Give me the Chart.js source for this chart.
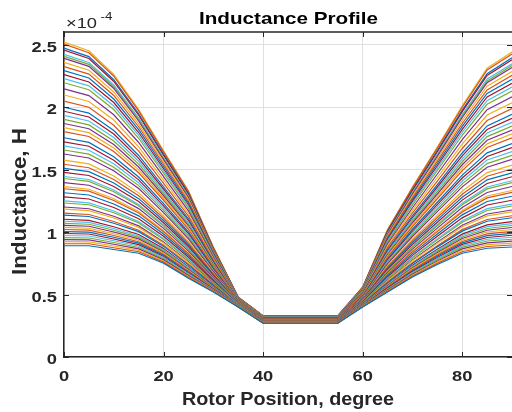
<!DOCTYPE html>
<html>
<head>
<meta charset="utf-8">
<script src="https://cdn.jsdelivr.net/npm/chart.js@4.4.1/dist/chart.umd.min.js"></script>
<style>
  body { margin: 0; background: #fff; }
  canvas { display: block; }
</style>
</head>
<body>
<canvas id="inductanceChart" width="512" height="412"></canvas>
<script>
// rotor angle (degree); 40..55 is the flat unaligned stretch
const rotorPos = [0, 5, 10, 15, 20, 25, 30, 35, 40, 55, 60, 65, 70, 75, 80, 85, 90];
const xTicks = [0, 20, 40, 60, 80];
const yTicks = [0, 0.5, 1, 1.5, 2, 2.5];

// inductance in units of 1e-4 H, one row per current level (highest current first)
const inductance = [
  [0.89, 0.89, 0.86, 0.83, 0.75, 0.63, 0.52, 0.40, 0.27, 0.27, 0.40, 0.52, 0.64, 0.74, 0.83, 0.87, 0.88],
  [0.906, 0.906, 0.874, 0.842, 0.759, 0.637, 0.524, 0.401, 0.271, 0.271, 0.402, 0.525, 0.647, 0.749, 0.842, 0.884, 0.896],
  [0.923, 0.921, 0.888, 0.853, 0.768, 0.644, 0.527, 0.402, 0.271, 0.271, 0.403, 0.53, 0.654, 0.759, 0.854, 0.899, 0.911],
  [0.939, 0.937, 0.902, 0.865, 0.777, 0.651, 0.531, 0.402, 0.272, 0.272, 0.405, 0.535, 0.662, 0.768, 0.865, 0.913, 0.927],
  [0.955, 0.952, 0.916, 0.876, 0.786, 0.658, 0.534, 0.403, 0.272, 0.272, 0.406, 0.54, 0.669, 0.778, 0.877, 0.928, 0.942],
  [0.972, 0.968, 0.93, 0.888, 0.795, 0.665, 0.538, 0.404, 0.273, 0.273, 0.408, 0.545, 0.676, 0.787, 0.889, 0.942, 0.958],
  [0.988, 0.984, 0.944, 0.899, 0.804, 0.672, 0.542, 0.405, 0.274, 0.274, 0.41, 0.55, 0.683, 0.796, 0.901, 0.956, 0.974],
  [1.004, 0.999, 0.958, 0.911, 0.813, 0.679, 0.545, 0.406, 0.274, 0.274, 0.411, 0.555, 0.69, 0.806, 0.913, 0.971, 0.989],
  [1.02, 1.015, 0.972, 0.922, 0.822, 0.686, 0.549, 0.406, 0.275, 0.275, 0.413, 0.56, 0.698, 0.815, 0.924, 0.985, 1.005],
  [1.037, 1.03, 0.986, 0.934, 0.831, 0.693, 0.552, 0.407, 0.275, 0.275, 0.414, 0.565, 0.705, 0.825, 0.936, 1.0, 1.02],
  [1.053, 1.046, 1.0, 0.945, 0.84, 0.7, 0.556, 0.408, 0.276, 0.276, 0.416, 0.57, 0.712, 0.834, 0.948, 1.014, 1.036],
  [1.069, 1.062, 1.014, 0.957, 0.849, 0.707, 0.56, 0.409, 0.277, 0.277, 0.418, 0.575, 0.719, 0.843, 0.96, 1.028, 1.052],
  [1.086, 1.077, 1.028, 0.968, 0.858, 0.714, 0.563, 0.41, 0.277, 0.277, 0.419, 0.58, 0.726, 0.853, 0.972, 1.043, 1.067],
  [1.102, 1.093, 1.042, 0.98, 0.867, 0.721, 0.567, 0.41, 0.278, 0.278, 0.421, 0.585, 0.734, 0.862, 0.983, 1.057, 1.083],
  [1.135, 1.124, 1.07, 1.003, 0.885, 0.735, 0.574, 0.412, 0.279, 0.279, 0.424, 0.595, 0.748, 0.881, 1.007, 1.086, 1.114],
  [1.151, 1.14, 1.084, 1.014, 0.894, 0.742, 0.578, 0.413, 0.28, 0.28, 0.426, 0.6, 0.755, 0.89, 1.019, 1.1, 1.13],
  [1.183, 1.171, 1.112, 1.037, 0.912, 0.756, 0.585, 0.414, 0.281, 0.281, 0.429, 0.61, 0.77, 0.909, 1.042, 1.129, 1.161],
  [1.2, 1.186, 1.126, 1.049, 0.921, 0.763, 0.588, 0.415, 0.281, 0.281, 0.43, 0.615, 0.777, 0.919, 1.054, 1.144, 1.176],
  [1.232, 1.218, 1.154, 1.072, 0.939, 0.777, 0.596, 0.417, 0.283, 0.283, 0.434, 0.625, 0.791, 0.937, 1.078, 1.172, 1.208],
  [1.249, 1.233, 1.168, 1.083, 0.948, 0.784, 0.599, 0.418, 0.283, 0.283, 0.435, 0.63, 0.798, 0.947, 1.09, 1.187, 1.223],
  [1.281, 1.264, 1.196, 1.106, 0.966, 0.798, 0.606, 0.419, 0.284, 0.284, 0.438, 0.64, 0.813, 0.966, 1.113, 1.216, 1.254],
  [1.314, 1.296, 1.224, 1.129, 0.984, 0.812, 0.614, 0.421, 0.286, 0.286, 0.442, 0.65, 0.827, 0.984, 1.137, 1.244, 1.286],
  [1.346, 1.327, 1.252, 1.152, 1.002, 0.826, 0.621, 0.422, 0.287, 0.287, 0.445, 0.66, 0.842, 1.003, 1.16, 1.273, 1.317],
  [1.363, 1.342, 1.266, 1.164, 1.011, 0.833, 0.624, 0.423, 0.287, 0.287, 0.446, 0.665, 0.849, 1.013, 1.172, 1.288, 1.332],
  [1.395, 1.374, 1.294, 1.187, 1.029, 0.847, 0.632, 0.425, 0.289, 0.289, 0.45, 0.675, 0.863, 1.031, 1.196, 1.316, 1.364],
  [1.428, 1.405, 1.322, 1.21, 1.047, 0.861, 0.639, 0.426, 0.29, 0.29, 0.453, 0.685, 0.878, 1.05, 1.219, 1.345, 1.395],
  [1.444, 1.42, 1.336, 1.221, 1.056, 0.868, 0.642, 0.427, 0.29, 0.29, 0.454, 0.69, 0.885, 1.06, 1.231, 1.36, 1.41],
  [1.477, 1.452, 1.364, 1.244, 1.074, 0.882, 0.65, 0.429, 0.292, 0.292, 0.458, 0.7, 0.899, 1.078, 1.255, 1.388, 1.442],
  [1.509, 1.483, 1.392, 1.267, 1.092, 0.896, 0.657, 0.43, 0.293, 0.293, 0.461, 0.71, 0.914, 1.097, 1.278, 1.417, 1.473],
  [1.542, 1.514, 1.42, 1.29, 1.11, 0.91, 0.664, 0.432, 0.294, 0.294, 0.464, 0.72, 0.928, 1.116, 1.302, 1.446, 1.504],
  [1.575, 1.545, 1.448, 1.313, 1.128, 0.924, 0.671, 0.434, 0.295, 0.295, 0.467, 0.73, 0.942, 1.135, 1.326, 1.475, 1.535],
  [1.624, 1.592, 1.49, 1.348, 1.155, 0.945, 0.682, 0.436, 0.297, 0.297, 0.472, 0.745, 0.964, 1.163, 1.361, 1.518, 1.582],
  [1.656, 1.623, 1.518, 1.371, 1.173, 0.959, 0.689, 0.438, 0.298, 0.298, 0.475, 0.755, 0.978, 1.182, 1.385, 1.547, 1.613],
  [1.689, 1.654, 1.546, 1.394, 1.191, 0.973, 0.696, 0.439, 0.299, 0.299, 0.478, 0.765, 0.993, 1.201, 1.408, 1.576, 1.644],
  [1.721, 1.686, 1.574, 1.417, 1.209, 0.987, 0.704, 0.441, 0.301, 0.301, 0.482, 0.775, 1.007, 1.219, 1.432, 1.604, 1.676],
  [1.754, 1.717, 1.602, 1.44, 1.227, 1.001, 0.711, 0.442, 0.302, 0.302, 0.485, 0.785, 1.022, 1.238, 1.455, 1.633, 1.707],
  [1.803, 1.764, 1.644, 1.474, 1.254, 1.022, 0.722, 0.445, 0.304, 0.304, 0.49, 0.8, 1.043, 1.266, 1.491, 1.676, 1.754],
  [1.835, 1.795, 1.672, 1.497, 1.272, 1.036, 0.729, 0.446, 0.305, 0.305, 0.493, 0.81, 1.058, 1.285, 1.514, 1.705, 1.785],
  [1.868, 1.826, 1.7, 1.52, 1.29, 1.05, 0.736, 0.448, 0.306, 0.306, 0.496, 0.82, 1.072, 1.304, 1.538, 1.734, 1.816],
  [1.901, 1.857, 1.728, 1.543, 1.308, 1.064, 0.743, 0.45, 0.307, 0.307, 0.499, 0.83, 1.086, 1.323, 1.562, 1.763, 1.847],
  [1.933, 1.888, 1.756, 1.566, 1.326, 1.078, 0.75, 0.451, 0.308, 0.308, 0.502, 0.84, 1.101, 1.342, 1.585, 1.792, 1.878],
  [1.966, 1.92, 1.784, 1.589, 1.344, 1.092, 0.758, 0.453, 0.31, 0.31, 0.506, 0.85, 1.115, 1.36, 1.609, 1.82, 1.91],
  [1.998, 1.951, 1.812, 1.612, 1.362, 1.106, 0.765, 0.454, 0.311, 0.311, 0.509, 0.86, 1.13, 1.379, 1.632, 1.849, 1.941],
  [2.047, 1.998, 1.854, 1.647, 1.389, 1.127, 0.776, 0.457, 0.313, 0.313, 0.514, 0.875, 1.151, 1.407, 1.668, 1.892, 1.988],
  [2.096, 2.044, 1.896, 1.681, 1.416, 1.148, 0.786, 0.459, 0.314, 0.314, 0.518, 0.89, 1.173, 1.436, 1.703, 1.936, 2.034],
  [2.145, 2.091, 1.938, 1.716, 1.443, 1.169, 0.797, 0.462, 0.316, 0.316, 0.523, 0.905, 1.194, 1.464, 1.739, 1.979, 2.081],
  [2.194, 2.138, 1.98, 1.75, 1.47, 1.19, 0.808, 0.464, 0.318, 0.318, 0.528, 0.92, 1.216, 1.492, 1.774, 2.022, 2.128],
  [2.227, 2.169, 2.008, 1.773, 1.488, 1.204, 0.815, 0.466, 0.319, 0.319, 0.531, 0.93, 1.23, 1.511, 1.798, 2.051, 2.159],
  [2.259, 2.2, 2.036, 1.796, 1.506, 1.218, 0.822, 0.467, 0.32, 0.32, 0.534, 0.94, 1.245, 1.53, 1.821, 2.08, 2.19],
  [2.292, 2.232, 2.064, 1.819, 1.524, 1.232, 0.83, 0.469, 0.322, 0.322, 0.538, 0.95, 1.259, 1.548, 1.845, 2.108, 2.222],
  [2.324, 2.263, 2.092, 1.842, 1.542, 1.246, 0.837, 0.47, 0.323, 0.323, 0.541, 0.96, 1.274, 1.567, 1.868, 2.137, 2.253],
  [2.357, 2.294, 2.12, 1.865, 1.56, 1.26, 0.844, 0.472, 0.324, 0.324, 0.544, 0.97, 1.288, 1.586, 1.892, 2.166, 2.284],
  [2.39, 2.325, 2.148, 1.888, 1.578, 1.274, 0.851, 0.474, 0.325, 0.325, 0.547, 0.98, 1.302, 1.605, 1.916, 2.195, 2.315],
  [2.406, 2.341, 2.162, 1.9, 1.587, 1.281, 0.855, 0.474, 0.326, 0.326, 0.549, 0.985, 1.31, 1.614, 1.927, 2.209, 2.331],
  [2.422, 2.356, 2.176, 1.911, 1.596, 1.288, 0.858, 0.475, 0.326, 0.326, 0.55, 0.99, 1.317, 1.624, 1.939, 2.224, 2.346],
  [2.455, 2.388, 2.204, 1.934, 1.614, 1.302, 0.866, 0.477, 0.328, 0.328, 0.554, 1.0, 1.331, 1.642, 1.963, 2.252, 2.378],
  [2.471, 2.403, 2.218, 1.946, 1.623, 1.309, 0.869, 0.478, 0.328, 0.328, 0.555, 1.005, 1.338, 1.652, 1.975, 2.267, 2.393],
  [2.504, 2.434, 2.246, 1.969, 1.641, 1.323, 0.876, 0.479, 0.329, 0.329, 0.558, 1.015, 1.353, 1.671, 1.998, 2.296, 2.424],
  [2.52, 2.45, 2.26, 1.98, 1.65, 1.33, 0.88, 0.48, 0.33, 0.33, 0.56, 1.02, 1.36, 1.68, 2.01, 2.31, 2.44]
];

// matlab default line colour order
const lineColors = ["#0072BD", "#D95319", "#EDB120", "#7E2F8E", "#77AC30", "#4DBEEE", "#A2142F"];

const axisColor = "#262626";
const fontFamily = "'Liberation Sans', Arial, Helvetica, sans-serif";
const stretch = 1.22; // the reference text is drawn wide

function drawText(ctx, text, x, y, o) {
  ctx.save();
  ctx.font = o.font;
  ctx.fillStyle = o.color || axisColor;
  ctx.textAlign = o.align || "center";
  ctx.textBaseline = "alphabetic";
  const w = ctx.measureText(text).width;
  const sx = o.width ? o.width / w : (o.sx || stretch);
  ctx.translate(x, y);
  if (o.rotate) ctx.rotate(o.rotate);
  ctx.scale(sx, o.sy || 1);
  ctx.fillText(text, 0, 0);
  ctx.restore();
}

const matlabAxes = {
  id: "matlabAxes",
  afterDraw(chart) {
    const { ctx, chartArea: a, scales: { x, y } } = chart;
    ctx.save();
    // box top edge
    ctx.strokeStyle = axisColor;
    ctx.lineWidth = 1.5;
    ctx.beginPath();
    ctx.moveTo(a.left, a.top);
    ctx.lineTo(a.right, a.top);
    ctx.stroke();

    // inward tick marks
    ctx.lineWidth = 1;
    ctx.beginPath();
    xTicks.forEach(v => {
      const px = Math.round(x.getPixelForValue(v)) + 0.5;
      ctx.moveTo(px, a.bottom); ctx.lineTo(px, a.bottom - 5);
      ctx.moveTo(px, a.top); ctx.lineTo(px, a.top + 5);
    });
    yTicks.forEach(v => {
      const py = Math.round(y.getPixelForValue(v)) + 0.5;
      ctx.moveTo(a.left, py); ctx.lineTo(a.left + 5, py);
      ctx.moveTo(a.right, py); ctx.lineTo(a.right - 5, py);
    });
    ctx.stroke();
    ctx.restore();

    const tickFont = "bold 15px " + fontFamily;
    xTicks.forEach(v => {
      drawText(ctx, String(v), x.getPixelForValue(v), 381, { font: tickFont });
    });
    yTicks.forEach(v => {
      drawText(ctx, String(v), 57, y.getPixelForValue(v) + 7, { font: tickFont, align: "right" });
    });

    // exponent label
    drawText(ctx, "\u00d710", 66, 27.5, { font: "15px " + fontFamily, align: "left" });
    drawText(ctx, "-4", 100.5, 20, { font: "11px " + fontFamily, align: "left" });

    drawText(ctx, "Inductance Profile", 288.5, 23.5, { font: "bold 17px " + fontFamily, width: 179, color: "#000" });
    drawText(ctx, "Rotor Position, degree", 288, 405, { font: "bold 18px " + fontFamily, width: 212 });
    drawText(ctx, "Inductance, H", 26, 201.5, { font: "bold 18px " + fontFamily, width: 147, sy: 1.1, rotate: -Math.PI / 2 });
  }
};

const datasets = inductance.map((row, i) => ({
  data: row.map((v, j) => ({ x: rotorPos[j], y: v })),
  borderColor: lineColors[i % lineColors.length],
  borderWidth: 1.2,
  pointRadius: 0,
  fill: false,
  tension: 0
}));

new Chart(document.getElementById("inductanceChart").getContext("2d"), {
  type: "line",
  data: { datasets },
  options: {
    responsive: false,
    animation: false,
    devicePixelRatio: 1,
    layout: { padding: { top: 32, left: 0, right: 0, bottom: 0 } },
    plugins: {
      legend: { display: false },
      title: { display: false },
      tooltip: { enabled: false }
    },
    scales: {
      x: {
        type: "linear",
        min: 0,
        max: 90,
        afterBuildTicks: s => { s.ticks = xTicks.map(v => ({ value: v })); },
        afterFit: s => { s.height = 55; },
        ticks: { display: false },
        grid: { color: "#dfdfdf", lineWidth: 1, drawTicks: false },
        border: { color: axisColor, width: 1.5 }
      },
      y: {
        min: 0,
        max: 2.6,
        afterBuildTicks: s => { s.ticks = yTicks.map(v => ({ value: v })); },
        afterFit: s => { s.width = 64; },
        ticks: { display: false },
        grid: { color: "#dfdfdf", lineWidth: 1, drawTicks: false },
        border: { color: axisColor, width: 1.5 }
      }
    }
  },
  plugins: [matlabAxes]
});
</script>
</body>
</html>
